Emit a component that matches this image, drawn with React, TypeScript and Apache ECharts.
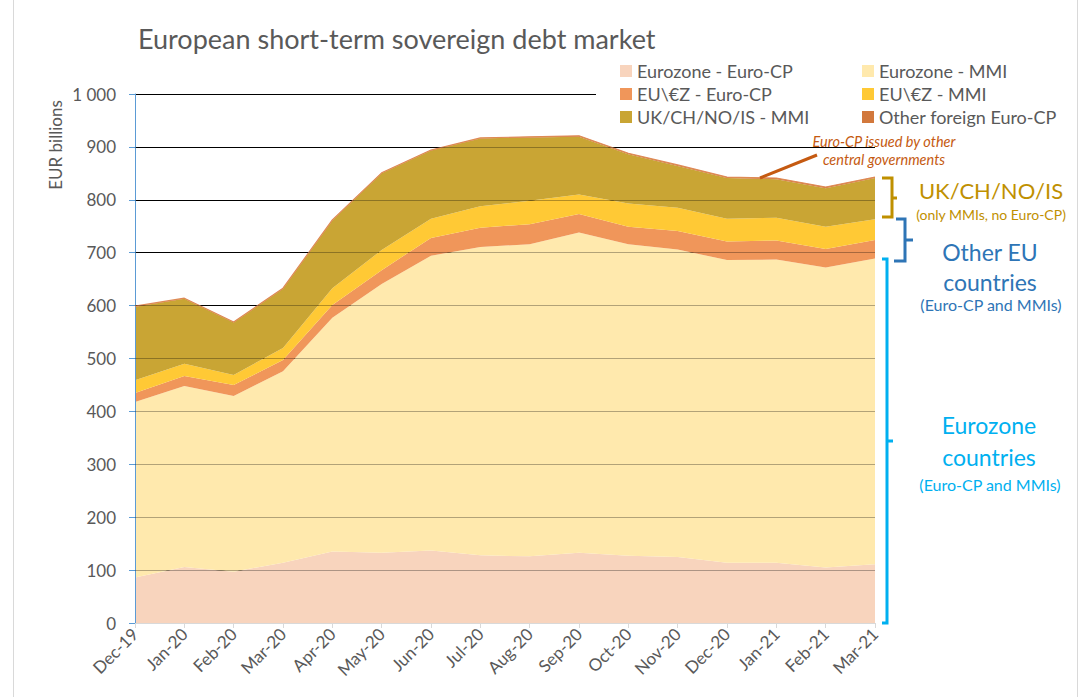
import React, { useEffect, useRef } from "react";
import * as echarts from "echarts";

const months = ["Dec-19", "Jan-20", "Feb-20", "Mar-20", "Apr-20", "May-20", "Jun-20", "Jul-20", "Aug-20", "Sep-20", "Oct-20", "Nov-20", "Dec-20", "Jan-21", "Feb-21", "Mar-21"];
const yTicks = [0, 100, 200, 300, 400, 500, 600, 700, 800, 900, 1000];

const ezEuroCP = [86, 106, 97, 114, 135, 133, 137, 128, 126, 133, 127, 125, 114, 114, 105, 111];
const ezMMI = [332, 342, 332, 362, 442, 508, 557, 583, 590, 605, 589, 581, 572, 573, 567, 578];
const euEuroCP = [17, 19, 21, 21, 24, 26, 34, 36, 38, 35, 33, 35, 35, 36, 35, 35];
const euMMI = [24, 23, 19, 23, 32, 38, 36, 41, 44, 37, 44, 44, 43, 43, 42, 39];
const ukMMI = [139, 123, 99, 112, 128, 145, 129, 128, 120, 109, 93, 79, 77, 73, 73, 78];
const otherEuroCP = [1, 1, 1, 1, 1, 1, 1, 1, 1, 2, 2, 2, 2, 2, 2, 2];

const seriesDefs = [
  { name: "Eurozone - Euro-CP", data: ezEuroCP, color: "#F8D4BD" },
  { name: "Eurozone - MMI", data: ezMMI, color: "#FFE9AD" },
  { name: "EU\\€Z - Euro-CP", data: euEuroCP, color: "#F0965A" },
  { name: "EU\\€Z - MMI", data: euMMI, color: "#FFC935" },
  { name: "UK/CH/NO/IS - MMI", data: ukMMI, color: "#C9A534" },
  { name: "Other foreign Euro-CP", data: otherEuroCP, color: "#D2783C" },
];

const FONT = "Lato, 'Noto Sans', sans-serif";
const GREY = "#595959";

function brace(points: number[][], color: string, z = 20) {
  return {
    type: "polyline",
    z,
    shape: { points },
    style: { stroke: color, lineWidth: 3, fill: null },
  };
}

function txt(x: number, y: number, text: string, size: number, color: string, extra: any = {}) {
  return {
    type: "text",
    z: 20,
    x,
    y,
    style: {
      text,
      fill: color,
      font: `${extra.italic ? "italic " : ""}${size}px ${FONT}`,
      align: "center",
      verticalAlign: "middle",
    },
  };
}

export default function App() {
  const ref = useRef<HTMLDivElement>(null);
  useEffect(() => {
    document.body.style.margin = "0";
    const chart = echarts.init(ref.current!, null, { renderer: "svg" });
    const legendCommon = {
      orient: "vertical",
      top: 59,
      backgroundColor: "#ffffff",
      itemWidth: 12,
      itemHeight: 12,
      itemGap: 3,
      icon: "rect",
      textStyle: { fontFamily: FONT, fontSize: 18, color: GREY, lineHeight: 20 },
    };
    const option: any = {
      animation: false,
      backgroundColor: "#ffffff",
      title: {
        text: "European short-term sovereign debt market",
        left: 133,
        top: 20,
        textStyle: { fontFamily: FONT, fontSize: 27, fontWeight: "normal", color: GREY },
      },
      grid: { left: 135, right: 205, top: 94, bottom: 74 },
      legend: [
        {
          ...legendCommon,
          left: 596,
          padding: [2, 80, 2, 24],
          data: [seriesDefs[0].name, seriesDefs[2].name, seriesDefs[4].name],
        },
        {
          ...legendCommon,
          left: 842,
          padding: [2, 20, 2, 20],
          data: [seriesDefs[1].name, seriesDefs[3].name, seriesDefs[5].name],
        },
      ],
      xAxis: {
        type: "category",
        data: months,
        boundaryGap: false,
        z: 3,
        axisLine: { lineStyle: { color: "#D9D9D9", width: 1 } },
        axisTick: { show: true, length: 5, lineStyle: { color: "#D9D9D9" } },
        axisLabel: { rotate: 45, fontFamily: FONT, fontSize: 17, color: GREY, margin: 8 },
        splitLine: { show: false },
      },
      yAxis: [
        {
          type: "value",
          min: 0,
          max: 1000,
          interval: 100,
          axisLine: { show: false },
          axisTick: { show: false },
          axisLabel: {
            fontFamily: FONT,
            fontSize: 17,
            color: GREY,
            margin: 19,
            formatter: (v: number) => (yTicks.includes(v) && v >= 1000 ? "1 000" : String(v)),
          },
          splitLine: { show: true, lineStyle: { color: "#000000", width: 1 } },
        },
        {
          type: "value",
          min: 0,
          max: 1000,
          interval: 100,
          position: "left",
          z: 3,
          axisLine: { show: true, lineStyle: { color: "#5B9BD5", width: 1 } },
          axisTick: { show: true, length: 6, lineStyle: { color: "#5B9BD5" } },
          axisLabel: { show: false },
          splitLine: { show: false },
        },
      ],
      series: seriesDefs.map((s, i) => ({
        name: s.name,
        type: "line",
        stack: "total",
        yAxisIndex: 0,
        data: s.data,
        symbol: "none",
        itemStyle: { color: s.color },
        lineStyle: i === 5 ? { width: 1.2, color: "#DE8A55" } : { width: 0 },
        areaStyle: { color: s.color, opacity: 1 },
        markLine:
          i === 5
            ? {
                silent: true,
                symbol: ["none", "none"],
                label: { show: false },
                lineStyle: { color: "rgba(0,0,0,0.3)", width: 1, type: "solid" },
                data: yTicks.filter((v) => v > 0 && v < 1000).map((v) => ({ yAxis: v })),
              }
            : undefined,
      })),
      graphic: [
        { type: "line", z: 1, shape: { x1: 13.5, y1: 0, x2: 13.5, y2: 697 }, style: { stroke: "#D9D9D9", lineWidth: 1 } },
        { type: "line", z: 1, shape: { x1: 1077.5, y1: 0, x2: 1077.5, y2: 697 }, style: { stroke: "#D9D9D9", lineWidth: 1 } },
        {
          type: "text",
          z: 20,
          x: 55,
          y: 145,
          rotation: Math.PI / 2,
          style: { text: "EUR billions", fill: GREY, font: `17px ${FONT}`, align: "center", verticalAlign: "middle" },
        },
        // Euro-CP annotation
        { type: "line", z: 20, shape: { x1: 817, y1: 155, x2: 760, y2: 178 }, style: { stroke: "#C55A11", lineWidth: 3 } },
        txt(884, 141, "Euro-CP issued by other", 14.5, "#C55A11", { italic: true }),
        txt(884, 159, "central governments", 14.5, "#C55A11", { italic: true }),
        // UK bracket
        brace([[882, 178], [892, 178], [892, 198], [897, 198], [892, 198], [892, 217], [882, 217]], "#BF9000"),
        txt(991, 190, "UK/CH/NO/IS", 22, "#BF9000"),
        txt(991, 214, "(only MMIs, no Euro-CP)", 14, "#BF9000"),
        // Other EU bracket
        brace([[896, 219], [905, 219], [905, 240], [913, 240], [905, 240], [905, 261], [894, 261]], "#2E75B6"),
        txt(990, 252, "Other EU", 23, "#2E75B6"),
        txt(990, 282, "countries", 23, "#2E75B6"),
        txt(991, 304, "(Euro-CP and MMIs)", 16, "#2E75B6"),
        // Eurozone bracket
        brace([[882, 259], [887, 259], [887, 441], [893, 441], [887, 441], [887, 623], [882, 623]], "#00B0F0"),
        txt(989, 425, "Eurozone", 23, "#00B0F0"),
        txt(989, 457, "countries", 23, "#00B0F0"),
        txt(990, 484, "(Euro-CP and MMIs)", 16, "#00B0F0"),
      ],
    };
    chart.setOption(option);
    return () => chart.dispose();
  }, []);
  return <div ref={ref} style={{ width: 1080, height: 697 }} />;
}
